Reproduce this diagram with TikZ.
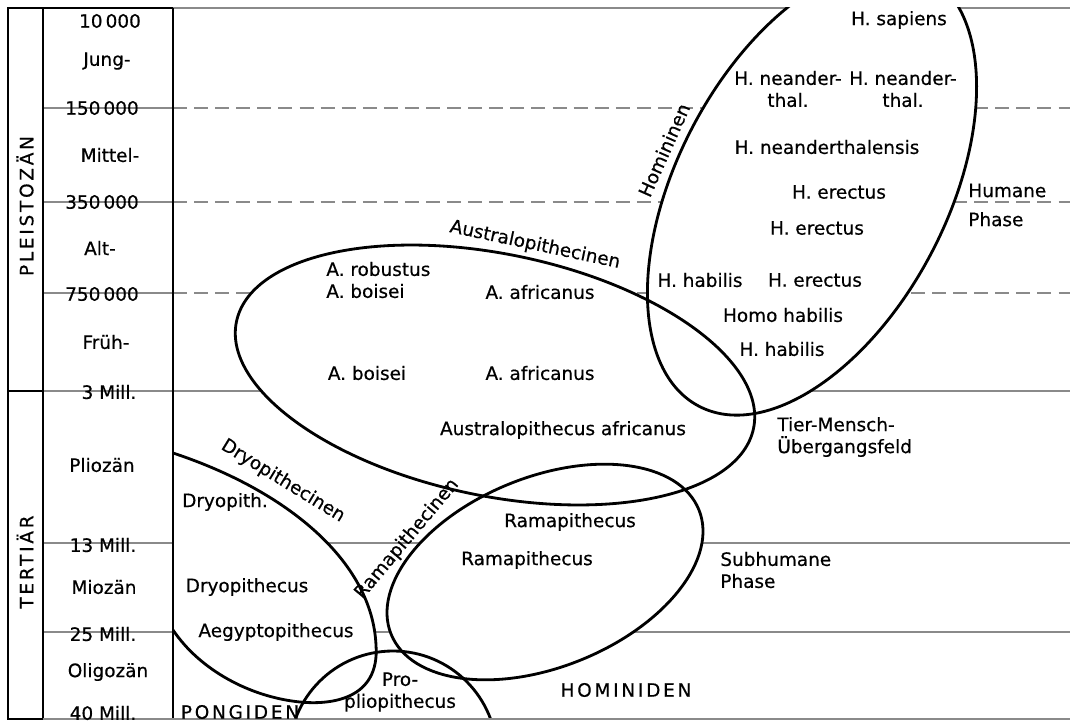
\documentclass[tikz,border=0pt]{standalone}
\usepackage{fontspec}
\setmainfont{DejaVu Sans}[FakeBold=0.5]
\definecolor{rGray}{HTML}{8A8A8A}

\begin{document}
\begin{tikzpicture}[x=0.02cm, y=-0.02cm,
  lbl/.style={font=\fontsize{10.5}{12.5}\selectfont, inner sep=0pt, align=center},
  tag/.style={lbl, align=left},
  wide/.style={lbl, font=\fontsize{10.5}{12.5}\selectfont\addfontfeature{LetterSpace=15}},
  grid/.style={rGray, line width=0.8pt},
  gridDash/.style={grid, dash pattern=on 8pt off 4pt},
  frame/.style={black, line width=1.3pt},
  group/.style={black, line width=1.6pt},
  passFill/.style={fill=white},
  passDraw/.style={draw, group},
]
\useasboundingbox (0,0) rectangle (1075,723);

% time lines
\foreach \y in {108,202,293} {
  \draw[grid] (43,\y) -- (173,\y);
  \draw[gridDash] (173,\y) -- (1070,\y);
}
\foreach \y in {391,543,632} \draw[grid] (43,\y) -- (1070,\y);
\draw[grid] (173,8) -- (1070,8);

% groups: white first, then outlines
\foreach \how/\top in {passFill/0, passDraw/8} {
  \begin{scope}
    \clip (173,\top) rectangle (1075,719);
    \path[\how, rotate around={62.4:(812,190)}] (812,190) ellipse [x radius=244, y radius=135];
    \path[\how, rotate around={-11.65:(495,375)}] (495,375) ellipse [x radius=264, y radius=121];
    \path[\how, rotate around={22:(545,572)}] (545,572) ellipse [x radius=166, y radius=95];
    \path[\how] (393,755) circle [radius=104];
    \path[\how] (173,453) .. controls (285,490) and (372,560) .. (376,645)
      .. controls (380,700) and (330,705) .. (300,702)
      .. controls (250,697) and (200,670) .. (173,630);
  \end{scope}
}

% frame
\draw[frame] (8,8) rectangle (43,719);
\draw[frame] (8,391) -- (43,391);
\draw[frame] (43,8) -- (173,8);
\draw[frame] (173,8) -- (173,719);
\draw[grid] (43,719) -- (1070,719);

% time scale
\node[wide, rotate=90] (pleist) at (25,206) {PLEISTOZÄN};
\node[wide, rotate=90] (tert) at (25,562) {TERTIÄR};
\node[lbl] (t10k) at (110,21) {10\,000};
\node[lbl] (jung) at (107,61) {Jung-};
\node[lbl] (t150k) at (102,108) {150\,000};
\node[lbl] (mittel) at (110,155) {Mittel-};
\node[lbl] (t350k) at (102,202) {350\,000};
\node[lbl] (alt) at (100,248) {Alt-};
\node[lbl] (t750k) at (102,294) {750\,000};
\node[lbl] (frueh) at (106,342) {Früh-};
\node[lbl] (m3) at (109,392) {3 Mill.};
\node[lbl] (plio) at (102,465) {Pliozän};
\node[lbl] (m13) at (103,545) {13 Mill.};
\node[lbl] (mio) at (104,587) {Miozän};
\node[lbl] (m25) at (103,634) {25 Mill.};
\node[lbl] (oligo) at (108,672) {Oligozän};
\node[lbl] (m40) at (103,713) {40 Mill.};

% Homininen
\node[lbl, rotate=66] (hominin) at (664,150) {Homininen};
\node[lbl] (sapiens) at (899,20) {H. sapiens};
\node[lbl] (neandA) at (788,89) {H. neander-\\thal.};
\node[lbl] (neandB) at (903,89) {H. neander-\\thal.};
\node[lbl] (neandC) at (827,147) {H. neanderthalensis};
\node[lbl] (erectA) at (839,192) {H. erectus};
\node[lbl] (erectB) at (817,228) {H. erectus};
\node[lbl] (habilA) at (700,280) {H. habilis};
\node[lbl] (erectC) at (815,280) {H. erectus};
\node[lbl] (homoHab) at (783,315) {Homo habilis};
\node[lbl] (habilB) at (782,349) {H. habilis};
\node[tag, anchor=west] (humane) at (968,205) {Humane\\[4pt]Phase};
\node[tag, anchor=west] (tmu) at (777,437) {Tier-Mensch-\\Übergangsfeld};

% Australopithecinen
\node[lbl, rotate=-12] (austral) at (535,245) {Australopithecinen};
\node[tag, anchor=west] (robust) at (326,280) {A. robustus\\A. boisei};
\node[lbl] (africA) at (540,292) {A. africanus};
\node[lbl] (boiseiB) at (367,373) {A. boisei};
\node[lbl] (africB) at (540,373) {A. africanus};
\node[lbl] (austAfr) at (563,430) {Australopithecus africanus};

% Dryopithecinen
\node[lbl, rotate=-31.5] (dryo) at (283,481) {Dryopithecinen};
\node[lbl] (dryoA) at (225,502) {Dryopith.};
\node[lbl] (dryoB) at (247,587) {Dryopithecus};
\node[lbl] (aegypt) at (276,632) {Aegyptopithecus};
\node[wide] (pongid) at (240,712) {PONGIDEN};
\node[lbl] (proplio) at (400,692) {Pro-\\pliopithecus};

% Ramapithecinen
\node[lbl, rotate=50] (rama) at (407,539) {Ramapithecinen};
\node[lbl] (ramaA) at (570,522) {Ramapithecus};
\node[lbl] (ramaB) at (527,560) {Ramapithecus};
\node[wide] (hominid) at (626,690) {HOMINIDEN};
\node[tag, anchor=west] (subhum) at (720,570) {Subhumane\\Phase};
\end{tikzpicture}
\end{document}
